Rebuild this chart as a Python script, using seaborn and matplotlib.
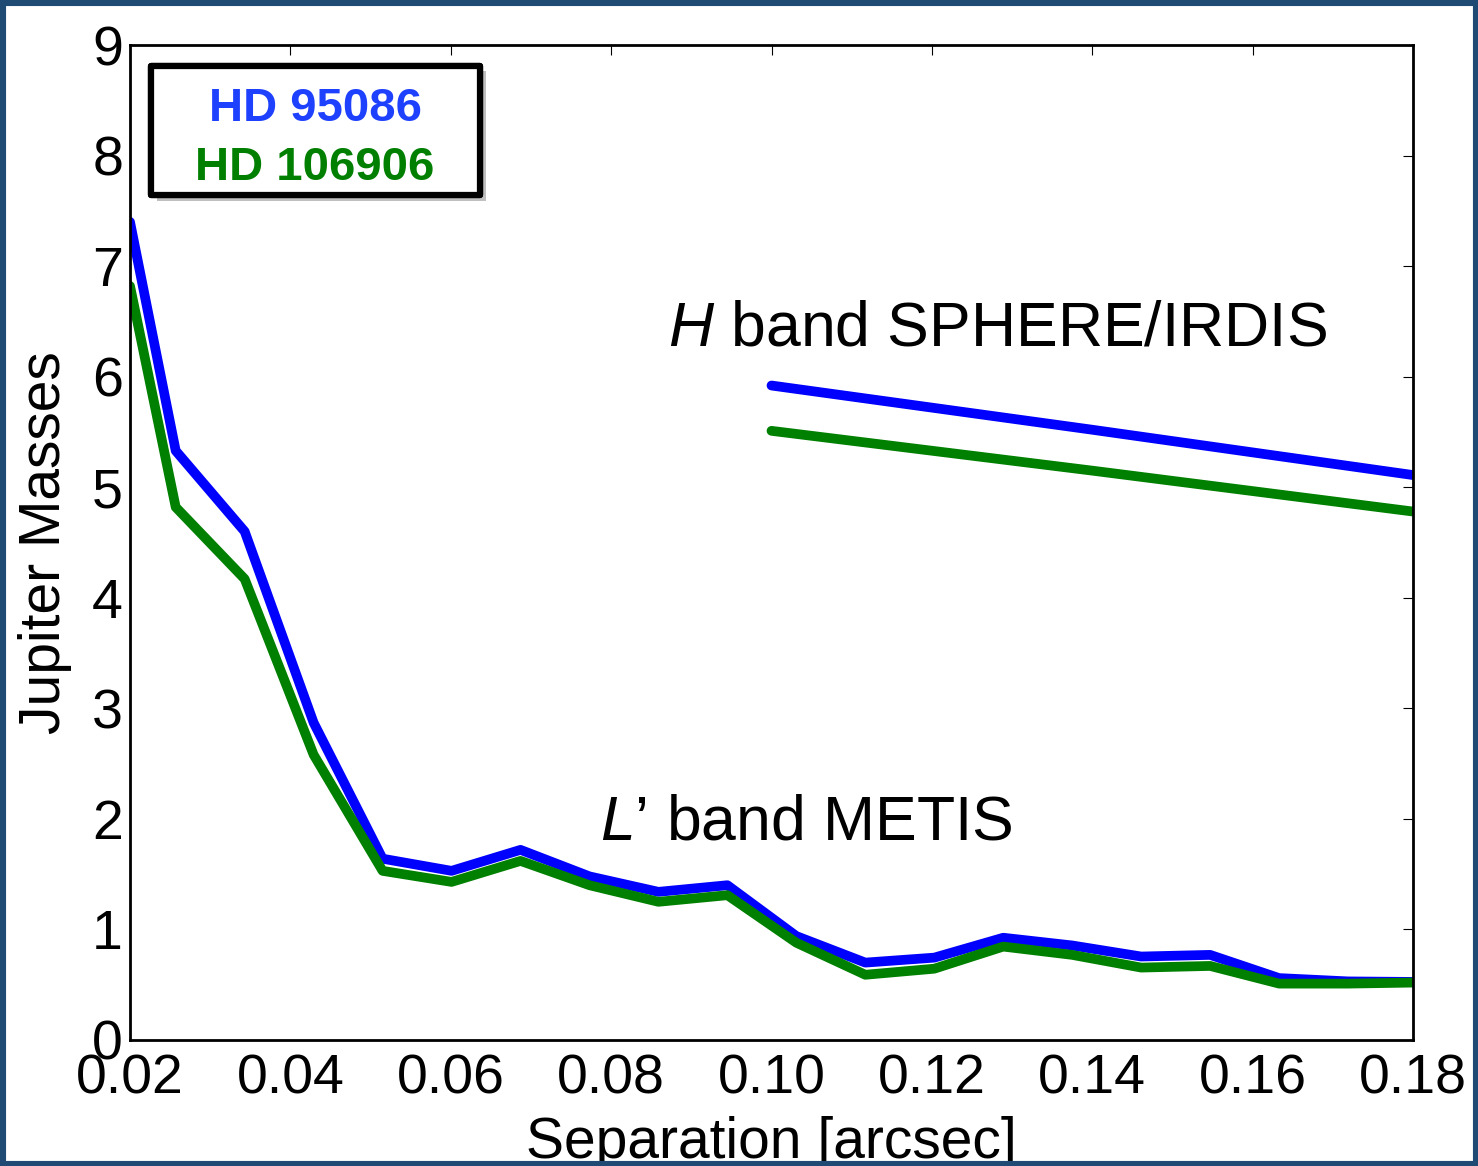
import matplotlib
matplotlib.use("Agg")
import matplotlib.pyplot as plt
import matplotlib.patheffects as pe
from matplotlib.patches import Rectangle
import seaborn as sns

# L' band METIS contrast curves (separation in arcsec, mass in M_Jup)
sep_L = [0.02, 0.0257, 0.0343, 0.0429, 0.0515, 0.0601, 0.0687, 0.0773, 0.0859, 0.0945,
         0.1031, 0.1117, 0.1203, 0.1289, 0.1375, 0.1461, 0.1547, 0.1633, 0.1719, 0.1805]
hd95086_L = [7.40, 5.33, 4.60, 2.87, 1.64, 1.53, 1.72, 1.48, 1.34, 1.40,
             0.94, 0.70, 0.745, 0.925, 0.855, 0.755, 0.77, 0.56, 0.53, 0.525]
hd106906_L = [6.82, 4.82, 4.17, 2.58, 1.53, 1.43, 1.62, 1.40, 1.25, 1.31,
              0.88, 0.59, 0.645, 0.845, 0.77, 0.655, 0.67, 0.51, 0.51, 0.52]

# H band SPHERE/IRDIS
sep_H = [0.10, 0.14, 0.18]
hd95086_H = [5.92, 5.52, 5.11]
hd106906_H = [5.51, 5.15, 4.78]

xticks = [0.02, 0.04, 0.06, 0.08, 0.10, 0.12, 0.14, 0.16, 0.18]
yticks = list(range(10))

BLUE = "#0000ff"
GREEN = "#008000"

sns.set_style("white")
plt.rcParams["font.family"] = ["Liberation Sans", "DejaVu Sans"]
plt.rcParams["mathtext.fontset"] = "custom"
plt.rcParams["mathtext.it"] = "Liberation Sans:italic"
plt.rcParams["mathtext.rm"] = "Liberation Sans"
plt.rcParams["text.color"] = "black"
plt.rcParams["axes.labelcolor"] = "black"
plt.rcParams["xtick.color"] = "black"
plt.rcParams["ytick.color"] = "black"

fig = plt.figure(figsize=(14.78, 11.66), dpi=100)
ax = fig.add_axes([130 / 1478, 1 - 1040 / 1166, 1283 / 1478, 995 / 1166])

lw = 7
sns.lineplot(x=sep_L, y=hd95086_L, color=BLUE, linewidth=lw, ax=ax, legend=False)
sns.lineplot(x=sep_L, y=hd106906_L, color=GREEN, linewidth=lw, ax=ax, legend=False)
sns.lineplot(x=sep_H, y=hd95086_H, color=BLUE, linewidth=lw, ax=ax, legend=False)
sns.lineplot(x=sep_H, y=hd106906_H, color=GREEN, linewidth=lw, ax=ax, legend=False)

ax.set_xlim(0.02, 0.18)
ax.set_ylim(0, 9)
ax.set_xticks(xticks)
ax.set_xticklabels([f"{t:.2f}" for t in xticks])
ax.set_yticks(yticks)
ax.tick_params(direction="in", top=True, right=True, length=7, width=0.8,
               labelsize=40, colors="black")
ax.tick_params(axis="x", pad=10)
ax.tick_params(axis="y", pad=5)
for s in ax.spines.values():
    s.set_linewidth(2)
    s.set_color("black")

ax.set_xlabel("Separation [arcsec]", fontsize=41, color="black")
ax.set_ylabel("Jupiter Masses", fontsize=41, color="black")
ax.xaxis.set_label_coords(0.5, -(1116 - 1040) / 995)
ax.yaxis.set_label_coords(-(130 - 72) / 1283, 0.5)

ax.text((668 - 130) / 1283, (1040 - 345) / 995, r"$H$ band SPHERE/IRDIS",
        transform=ax.transAxes, fontsize=45, ha="left", va="baseline", color="black")
ax.text((600 - 130) / 1283, (1040 - 840) / 995, r"$L$’ band METIS",
        transform=ax.transAxes, fontsize=45, ha="left", va="baseline", color="black")

# legend box with shadow
box = Rectangle((0.0164, 0.849), 0.2564, 0.130, transform=ax.transAxes,
                facecolor="white", edgecolor="black", linewidth=4.5,
                joinstyle="round", zorder=5)
box.set_path_effects([pe.withSimplePatchShadow(offset=(4, -4), shadow_rgbFace="gray", alpha=0.5),
                      pe.Normal()])
ax.add_patch(box)
ax.text(0.1442, 0.9236, "HD 95086", transform=ax.transAxes, fontsize=34,
        fontweight="bold", color="#1e40ff", ha="center", va="baseline", zorder=6)
ax.text(0.1442, 0.8643, "HD 106906", transform=ax.transAxes, fontsize=34,
        fontweight="bold", color="#007f00", ha="center", va="baseline", zorder=6)

# dark frame around the whole picture
fig.patches.append(Rectangle((0, 0), 1, 1, transform=fig.transFigure, fill=False,
                             edgecolor="#1f4a74", linewidth=8, zorder=10))

fig.savefig("out.png", dpi=100)
